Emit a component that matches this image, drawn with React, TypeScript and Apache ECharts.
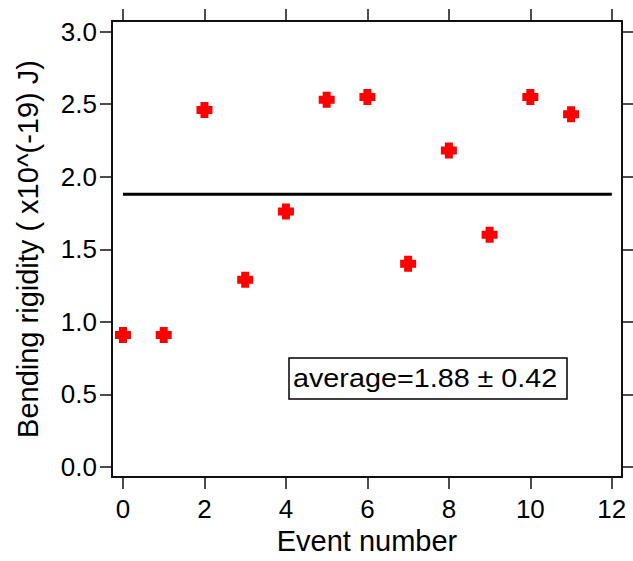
import React, { useEffect, useRef } from "react";
import * as echarts from "echarts";

const eventNumbers = [0, 1, 2, 3, 4, 5, 6, 7, 8, 9, 10, 11];
const rigidity = [0.91, 0.91, 2.46, 1.29, 1.76, 2.53, 2.55, 1.4, 2.18, 1.6, 2.55, 2.43];
const average = 1.88;
const stdDev = 0.42;
const averageSpan = [0, 12];
const xTicks = [0, 2, 4, 6, 8, 10, 12];
const yTicks = [0, 0.5, 1.0, 1.5, 2.0, 2.5, 3.0];

const FONT = "Liberation Sans, Arial, Helvetica, sans-serif";
const PLUS = "path://M4,0H12V4H16V12H12V16H4V12H0V4H4Z";

export default function App() {
  const ref = useRef<HTMLDivElement>(null);

  useEffect(() => {
    if (!ref.current) return;
    const chart = echarts.init(ref.current, undefined, { renderer: "svg" });
    const axisLine = { show: true, onZero: false, lineStyle: { color: "#111", width: 2 } };
    const tickStyle = { color: "#111", width: 1.5 };
    const xMin = -0.27, xMax = 12.25, yMin = -0.069, yMax = 3.073;

    chart.setOption({
      animation: false,
      backgroundColor: "#fff",
      grid: { left: 112, right: 11, top: 21, bottom: 84 },
      xAxis: [
        {
          type: "value",
          position: "bottom",
          min: xMin,
          max: xMax,
          axisLine,
          axisTick: { show: true, inside: false, length: 12, customValues: xTicks, lineStyle: tickStyle },
          axisLabel: { customValues: xTicks, fontSize: 26, fontFamily: FONT, color: "#000", margin: 19 },
          splitLine: { show: false },
          name: "Event number",
          nameLocation: "middle",
          nameGap: 49,
          nameTextStyle: { fontSize: 29, fontFamily: FONT, color: "#000" },
        },
        {
          type: "value",
          position: "top",
          min: xMin,
          max: xMax,
          axisLine,
          axisTick: { show: true, inside: false, length: 12, customValues: xTicks, lineStyle: tickStyle },
          axisLabel: { show: false },
          splitLine: { show: false },
        },
      ],
      yAxis: [
        {
          type: "value",
          position: "left",
          min: yMin,
          max: yMax,
          axisLine,
          axisTick: { show: true, inside: false, length: 12, customValues: yTicks, lineStyle: tickStyle },
          axisLabel: {
            customValues: yTicks,
            fontSize: 26,
            fontFamily: FONT,
            color: "#000",
            margin: 15,
            formatter: (v: number) => v.toFixed(1),
          },
          splitLine: { show: false },
          name: "Bending rigidity ( x10^(-19) J)",
          nameLocation: "middle",
          nameGap: 70,
          nameTextStyle: { fontSize: 29, fontFamily: FONT, color: "#000" },
        },
        {
          type: "value",
          position: "right",
          min: yMin,
          max: yMax,
          axisLine,
          axisTick: { show: true, inside: false, length: 12, customValues: yTicks, lineStyle: tickStyle },
          axisLabel: { show: false },
          splitLine: { show: false },
        },
      ],
      series: [
        {
          type: "line",
          data: averageSpan.map((x) => [x, average]),
          symbol: "none",
          lineStyle: { color: "#000", width: 3 },
          silent: true,
        },
        {
          type: "scatter",
          data: eventNumbers.map((x, i) => [x, rigidity[i]]),
          symbol: PLUS,
          symbolSize: 16,
          itemStyle: { color: "#ff0000", opacity: 1 },
        },
      ],
      graphic: [
        {
          type: "rect",
          shape: { x: 289, y: 358, width: 278, height: 41 },
          style: { fill: "#fff", stroke: "#000", lineWidth: 1.5 },
        },
        {
          type: "text",
          x: 293,
          y: 379,
          scaleX: 1.15,
          style: {
            text: `average=${average.toFixed(2)} ± ${stdDev.toFixed(2)}`,
            x: 0,
            y: 0,
            fontSize: 25,
            fontFamily: FONT,
            fill: "#000",
            verticalAlign: "middle",
          },
        },
      ],
    });
    return () => chart.dispose();
  }, []);

  return (
    <div
      ref={ref}
      style={{ position: "fixed", left: 0, top: 0, width: 633, height: 561, background: "#fff" }}
    />
  );
}
